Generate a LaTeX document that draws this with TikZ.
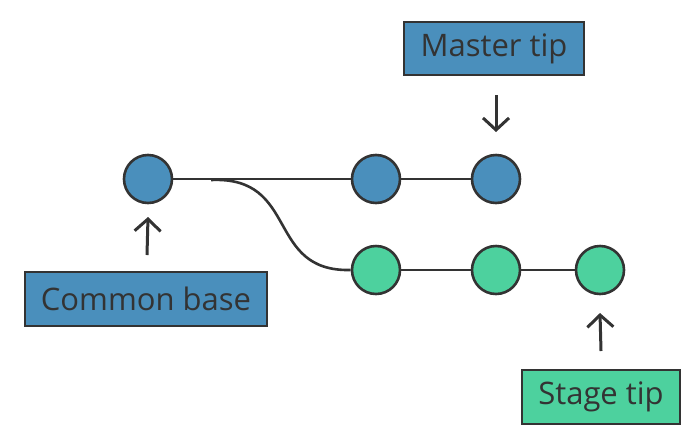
\documentclass[tikz,border=0pt]{standalone}
\usepackage{fontspec}
\setmainfont{Open Sans}
\usepackage{tikz}
\usetikzlibrary{arrows.meta}
\definecolor{masterblue}{HTML}{4A8FBC}
\definecolor{stagegreen}{HTML}{4DD19E}
\definecolor{inkgray}{HTML}{333333}

\begin{document}
\begin{tikzpicture}[x=1pt,y=-1pt,
  commit/.style={circle, draw=inkgray, line width=2.6pt, minimum size=48pt, inner sep=0pt},
  label box/.style={draw=inkgray, line width=1.2pt, text=inkgray, inner sep=0pt,
    font=\fontsize{31}{35}\selectfont},
  pointer/.style={draw=inkgray, line width=3pt, -{Straight Barb[length=12pt,width=26pt]}}]
  \useasboundingbox (0,0) rectangle (690,437);
  % commits
  \node[commit, fill=masterblue] (base) at (148,179) {};
  \node[commit, fill=masterblue] (m1) at (376,179) {};
  \node[commit, fill=masterblue] (m2) at (496,179) {};
  \node[commit, fill=stagegreen] (s1) at (376,270) {};
  \node[commit, fill=stagegreen] (s2) at (496,270) {};
  \node[commit, fill=stagegreen] (s3) at (600,270) {};
  % history lines
  \draw[inkgray, line width=1.6pt] (base) -- (m1);
  \draw[inkgray, line width=1.6pt] (m1) -- (m2);
  \coordinate (fork) at (211,180);
  \draw[inkgray, line width=2.6pt] (fork) .. controls (300,176) and (265,272) .. (s1.west);
  \draw[inkgray, line width=2.4pt] (s1) -- (s2);
  \draw[inkgray, line width=2.4pt] (s2) -- (s3);
  % labels
  \node[label box, fill=masterblue, minimum width=180pt, minimum height=53pt] (mtip) at (494,48.5) {Master tip};
  \node[label box, fill=masterblue, minimum width=242pt, minimum height=54pt] (cbase) at (146,299) {Common base};
  \node[label box, fill=stagegreen, minimum width=158pt, minimum height=54pt] (stip) at (601,397) {Stage tip};
  \coordinate (mtop) at (496,95);
  \coordinate (btop) at (147,255);
  \coordinate (stop) at (601,351);
  \draw[pointer] (mtop) -- (m2.north |- 0,132);
  \draw[pointer] (btop) -- (base.south |- 0,217);
  \draw[pointer] (stop) -- (s3.south |- 0,313);
\end{tikzpicture}
\end{document}
